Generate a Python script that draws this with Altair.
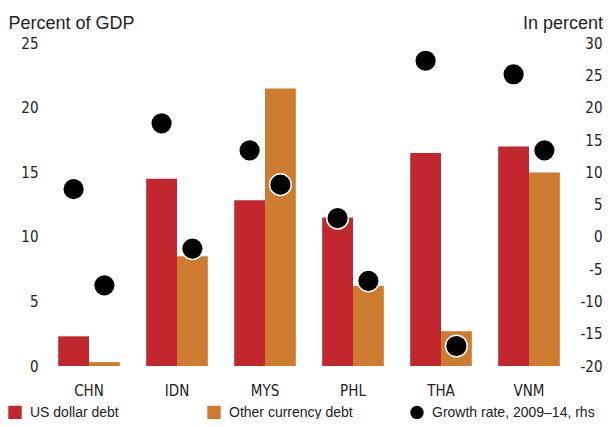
import altair as alt
import pandas as pd

countries = ["CHN", "IDN", "MYS", "PHL", "THA", "VNM"]
series_names = ["US dollar debt", "Other currency debt"]
growth_name = "Growth rate, 2009–14, rhs"
usd_debt = [2.3, 14.5, 12.85, 11.5, 16.5, 17.0]
other_debt = [0.3, 8.5, 21.5, 6.2, 2.7, 15.0]
growth_usd = [7.4, 17.6, 13.4, 2.9, 27.3, 25.2]
growth_other = [-7.5, -1.8, 8.1, -6.8, -16.9, 13.4]
left_ticks = [0, 5, 10, 15, 20, 25]
right_ticks = [-20, -15, -10, -5, 0, 5, 10, 15, 20, 25, 30]
colors = ["#C1272D", "#CD7B2E"]

rows = []
for i, c in enumerate(countries):
    rows.append({"country": c, "series": series_names[0], "debt": usd_debt[i], "growth": growth_usd[i]})
    rows.append({"country": c, "series": series_names[1], "debt": other_debt[i], "growth": growth_other[i]})
df = pd.DataFrame(rows)

NARROW = "Liberation Sans Narrow, DejaVu Sans Condensed, Arial Narrow, Liberation Sans, sans-serif"
REG = "Liberation Sans, Arial, sans-serif"

W, H = 528, 322.7
PAD = {"left": 37, "top": 35.3, "right": 30, "bottom": 411 - 35.3 - 322.7}

common_legend = dict(
    title=None, orient="none", direction="horizontal",
    symbolSize=180, labelFont=REG, labelFontSize=14, labelColor="#222222",
    labelOffset=8, labelLimit=300, padding=0,
)

x_enc = alt.X("country:N", sort=countries,
              scale=alt.Scale(paddingInner=0.3, paddingOuter=0.15),
              axis=alt.Axis(title=None, labelAngle=0, ticks=False, tickSize=0, domain=False,
                            labelFont=NARROW, labelFontSize=15, labelColor="#222222",
                            labelBaseline="middle", labelPadding=24))
xoff = alt.XOffset("series:N", sort=series_names,
                   scale=alt.Scale(domain=series_names, paddingInner=0, paddingOuter=0))

bars = alt.Chart(df).mark_bar().encode(
    x=x_enc,
    xOffset=xoff,
    y=alt.Y("debt:Q", scale=alt.Scale(domain=[0, 25], nice=False, zero=True),
            axis=alt.Axis(values=left_ticks, grid=False, ticks=False, tickSize=0, domain=False,
                          labelFont=NARROW, labelFontSize=15, labelColor="#222222", labelPadding=7,
                          title="Percent of GDP", titleAngle=0, titleAlign="left", titleX=-37, titleY=-15,
                          titleBaseline="alphabetic", titleFont=REG, titleFontSize=18,
                          titleFontWeight="normal", titleColor="#222222")),
    color=alt.Color("series:N", sort=series_names,
                    scale=alt.Scale(domain=series_names, range=colors),
                    legend=alt.Legend(legendX=-37, legendY=362.2, columns=2, gridAlign="all",
                                      columnPadding=53, symbolType="square", symbolStrokeWidth=0,
                                      **common_legend)),
)

points = alt.Chart(df).transform_calculate(
    key="'" + growth_name + "'"
).mark_point(filled=True, size=470, opacity=1, color="black", stroke="white", strokeWidth=1.5).encode(
    x=x_enc,
    xOffset=xoff,
    y=alt.Y("growth:Q", scale=alt.Scale(domain=[-20, 30], nice=False, zero=False),
            axis=alt.Axis(values=right_ticks, grid=False, ticks=False, tickSize=0, domain=False,
                          orient="right", labelAlign="right", labelPadding=29,
                          labelExpr="'' + datum.value",
                          labelFont=NARROW, labelFontSize=15, labelColor="#222222",
                          title="In percent", titleAngle=0, titleAlign="right", titleX=29.5, titleY=-15,
                          titleBaseline="alphabetic", titleFont=REG, titleFontSize=18,
                          titleFontWeight="normal", titleColor="#222222")),
    shape=alt.Shape("key:N", scale=alt.Scale(domain=[growth_name], range=["circle"]),
                    legend=alt.Legend(legendX=365, legendY=362.2, symbolFillColor="black",
                                      symbolStrokeWidth=0, **common_legend)),
)

chart = alt.layer(bars, points).resolve_scale(y="independent").properties(
    width=W, height=H,
    autosize=alt.AutoSizeParams(type="none"),
    padding=PAD,
).configure_view(stroke=None).configure_axis(grid=False)

chart.save("out.html", embed_options={"renderer": "svg", "actions": False})
